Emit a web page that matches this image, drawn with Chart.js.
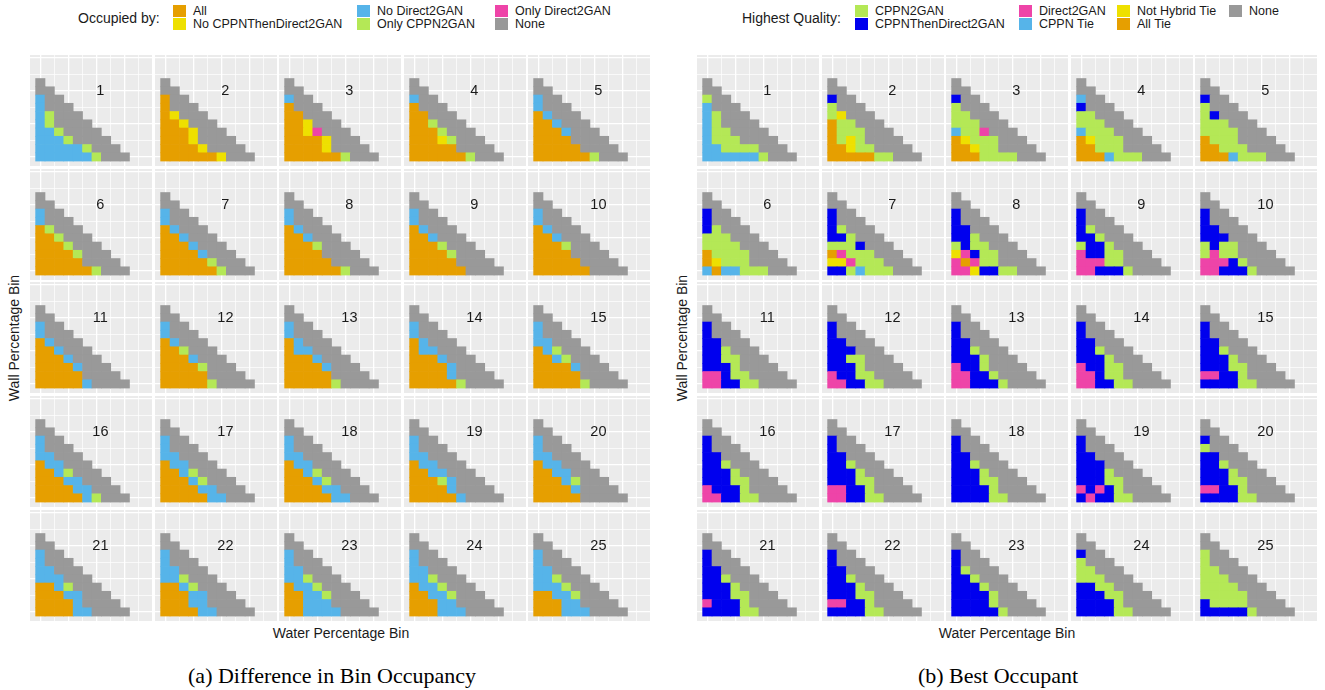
<!DOCTYPE html>
<html>
<head>
<meta charset="utf-8">
<script src="https://cdn.jsdelivr.net/npm/chart.js@4.4.0/dist/chart.umd.min.js"></script>
<style>
  body { margin: 0; width: 1325px; height: 690px; background: #fff; position: relative; overflow: hidden;
         font-family: "Liberation Sans", Arial, sans-serif; color: #1a1a1a; }
  .facet { position: absolute; }
  .txt { position: absolute; font-size: 12.5px; white-space: nowrap; line-height: 13px; }
  .ltitle { position: absolute; font-size: 14px; white-space: nowrap; transform: translateY(-50%); }
  .key { position: absolute; width: 13px; height: 12px; }
  .vtitle { position: absolute; font-size: 14px; white-space: nowrap; transform: translate(-50%, -50%) rotate(-90deg); }
  .htitle { position: absolute; font-size: 14px; white-space: nowrap; transform: translate(-50%, -50%); }
  .caption { position: absolute; font-family: "Liberation Serif", "Times New Roman", serif; font-size: 22px;
             white-space: nowrap; transform: translate(-50%, -50%); color: #000; }
</style>
</head>
<body>
<script>
// legend categories (code letters used in the grids below)
const occCodes = ['A', 'Y', 'B', 'G', 'P', 'N'];
const occLabels = ['All', 'No CPPNThenDirect2GAN', 'No Direct2GAN', 'Only CPPN2GAN', 'Only Direct2GAN', 'None'];
const bestCodes = ['G', 'D', 'P', 'C', 'Y', 'A', 'N'];
const bestLabels = ['CPPN2GAN', 'CPPNThenDirect2GAN', 'Direct2GAN', 'CPPN Tie', 'Not Hybrid Tie', 'All Tie', 'None'];

// gridline breaks (bin units)
const xBreaks = [0, 1.5, 3, 4.5, 6, 7.5, 9, 10.5];
const yBreaks = [0, 2, 4, 6, 8, 10, 12];

// each facet: rows from top (wall bin 9) to bottom (wall bin 0), one letter per water bin
const occupancyGrids = [
  'N NN BNN BNNN BGNNN BGNNNN BBGNNNN BBBGNNNN BBBBBGNNN BBBBBBGNNN',
  'N NN ANN ANNN AYNNN AAYNNN AAAYNNN AAAYNNNN AAAAYNNNN AAAAAAYNNN',
  'N NN BNN ANNN AANNN AAYNNN AAYPNNN AAAAYNNN AAAAYNNNN AAAAAAGNNN',
  'N NN BNN ANNN AANNN AAGNNN AAAGNNN AAAYGNNN AAAAANNNN AAAAAAGNNN',
  'N NN BNN BNNN ABNNN AABNNN AAABNNN AAAANNNN AAAAANNNN AAAAAAGNNN',
  'N NN BNN BNNN AGNNN AAGNNN AAAGNNN AAAAGNNN AAAAANNNN AAAAAAGNNN',
  'N NN BNN BNNN ABNNN AABNNN AAABNNN AAAABNNN AAAAAGNNN AAAAAAGNNN',
  'N NN BNN BNNN ABNNN AABNNN AAAGNNN AAAANNNN AAAAANNNN AAAAAAGNNN',
  'N NN BNN BNNN ABNNN AABNNN AAAGNNN AAAAGNNN AAAAANNNN AAAAAANNNN',
  'N NN BNN BNNN ABNNN AABNNN AAAGNNN AAAANNNN AAAAANNNN AAAAAANNNN',
  'N NN BNN BNNN ABNNN AABNNN AAABNNN AAAABNNN AAAAANNNN AAAAABNNNN',
  'N NN BNN BNNN ABNNN AAGNNN AAABNNN AAAAGNNN AAAAANNNN AAAAAGNNNN',
  'N NN BNN BNNN ABNNN ABBNNN AAABNNN AAAABNNN AAAAANNNN AAAAAGNNNN',
  'N NN BNN BNNN ABNNN ABBNNN AAABNNN AAAABNNN AAAABNNNN AAAAAGNNNN',
  'N NN BNN BNNN BBNNN ABGNNN AABGNNN AAAABNNN AAAAANNNN AAAAAGNNNN',
  'N NN BNN BNNN BBNNN ABBNNN AABGNNN AAABBNNN AAAABBNNN AAAAABGNNN',
  'N NN BNN BNNN BBNNN ABBNNN AABGNNN AAABGNNN AAAABBNNN AAAAABBNNN',
  'N NN BNN BNNN BBNNN ABBNNN AABGNNN AAABGNNN AAAABBNNN AAAAABBNNN',
  'N NN BNN BNNN BBNNN ABBNNN AABBNNN AAAGBNNN AAAABNNNN AAAAABNNNN',
  'N NN BNN BNNN BBNNN ABBNNN AABBNNN AAABGNNN AAAABNNNN AAAAANNNNN',
  'N NN BNN BNNN BBNNN BBBNNN AABGNNN AAABBNNN AAAABNNNN AAAABBNNNN',
  'N NN BNN BNNN BBNNN BBGNNN AABGNNN AAABBNNN AAABBNNNN AAAABBNNNN',
  'N NN BNN BNNN BBNNN BBGNNN ABBGNNN AABBGNNN AABBBNNNN AABBBBNNNN',
  'N NN BNN BNNN BBNNN BBGNNN ABBGNNN AABBGNNN AAABBNNNN AAABBBNNNN',
  'N NN BNN BNNN BBNNN BBGNNN BBBGNNN AABBGNNN AAABBNNNN AAABBBNNNN'
];

const bestGrids = [
  'N NN GNN CNNN CGNNN CGNNNN CGGNNNN CGGGNNNN CCGGGGNNN CCCCCCGNNN',
  'N NN DNN GNNN GYNNN AGGNNN AGGGNNN AGYGNNNN AAYGGNNNN AAAAAGGNNN',
  'N NN DNN GNNN GGNNN GGGNNN CGGPNNN AYGGGNNN AAYGGNNNN AAAGGGGNNN',
  'N NN CNN DNNN GGNNN GGGNNN CGGGNNN AYGGGNNN AAGGGNNNN AAACGGGNNN',
  'N NN DNN GNNN GDNNN GGGNNN GGGGNNN AGGGNNNN AAGGGNNNN AAACGGGNNN',
  'N NN DNN DNNN DGNNN GGGNNN GGGGNNN AGGGGNNN AYGGGNNNN CACCGGGNNN',
  'N NN DNN DNNN DGNNN DDGNNN GGGDNNN APGGGNNN YYPGGGNNN DDGCGGGNNN',
  'N NN DNN DNNN DDNNN DDGNNN GDGGNNN YPDGGNNN PAPGGNNNN PPYDDGGNNN',
  'N NN DNN DNNN DGNNN DDGNNN GDDGNNN PDDGGNNN PPPGGNNNN PPDDDGNNNN',
  'N NN DNN DNNN DDNNN DDDNNN GDGGNNN GPGGNNNN PPPDGNNNN PPDDDGNNNN',
  'N NN DNN DNNN DDNNN DDGNNN DDGGNNN DDDGNNNN PPDGGNNNN PPDDGGNNNN',
  'N NN DNN DNNN DDNNN DDDNNN DDGGNNN DDDGNNNN PDDGGNNNN PPDDGGNNNN',
  'N NN DNN DNNN DDNNN DDGNNN DDDGNNN PDDGNNNN PPDDGNNNN PPDDDGNNNN',
  'N NN DNN DNNN DDNNN DDGNNN DDDGNNN PDDGGNNN PPDGGNNNN PPDDGGNNNN',
  'N NN DNN DNNN DDNNN DDGNNN DDDGNNN DDDGGNNN PPDDGNNNN DDDDGGNNNN',
  'N NN DNN DNNN DDNNN DDGNNN DDDGNNN DDDGGNNN PDDDGNNNN PPDDGGNNNN',
  'N NN DNN DNNN DDNNN DDGNNN DDDGNNN DDDGGNNN PPDDGNNNN PPDDGGNNNN',
  'N NN DNN DNNN DDNNN DDGNNN DDDGNNN DDDGGNNN DDDDGNNNN DDDDGGNNNN',
  'N NN DNN DNNN DDNNN DDDNNN DDDGNNN DDDGGNNN PDPDGNNNN DPDDGGNNNN',
  'N NN DNN GNNN DDNNN DDGNNN DDDGNNN DDDGGNNN PPDDGNNNN DDDDGGNNNN',
  'N NN DNN DNNN DDNNN DDGNNN DDDGNNN DDDGGNNN PDDDGNNNN DDDDGGNNNN',
  'N NN DNN DNNN DDNNN DDGNNN DDDGNNN DDDGGNNN PPDDGNNNN DDDDGGNNNN',
  'N NN DNN DNNN DGNNN DDGNNN DDDGNNN DDDDGNNN DDDDGNNNN DDDDDGNNNN',
  'N NN DNN GNNN GGNNN GGGNNN DDGGNNN DDDGGNNN DDDDGNNNN DDDDGGNNNN',
  'N NN GNN GNNN GGNNN GGGNNN GGGGNNN GGGGGNNN DGGGGNNNN DDDDDGNNNN'
];

const colors = {
  A: '#E69F00', Y: '#EEE000', B: '#56B4E9', C: '#56B4E9', G: '#B4E856',
  P: '#EE44A8', D: '#0000EE', N: '#999999'
};

// layout of the two facet grids
const FW = 122, FH = 111, PITCH_X = 124.5, PITCH_Y = 113.7, TOP = 55;
const panels = [
  { left: 30, grids: occupancyGrids },
  { left: 697, grids: bestGrids }
];

const facetPlugin = {
  id: 'facetDeco',
  beforeDraw(chart) {
    const { ctx, chartArea: a } = chart;
    ctx.save();
    ctx.fillStyle = '#EBEBEB';
    ctx.fillRect(a.left, a.top, a.right - a.left, a.bottom - a.top);
    ctx.restore();
  },
  afterDatasetsDraw(chart, args, opts) {
    const { ctx, scales } = chart;
    ctx.save();
    ctx.font = '14.5px "Liberation Sans", Arial, sans-serif';
    ctx.fillStyle = '#1a1a1a';
    ctx.textAlign = 'center';
    ctx.textBaseline = 'middle';
    ctx.fillText(opts.label, scales.x.getPixelForValue(6.4), scales.y.getPixelForValue(8));
    ctx.restore();
  }
};

function makeFacet(left, top, grid, num) {
  const box = document.createElement('div');
  box.className = 'facet';
  box.style.left = Math.round(left) + 'px';
  box.style.top = Math.round(top) + 'px';
  const cv = document.createElement('canvas');
  cv.width = FW;
  cv.height = FH;
  box.appendChild(cv);
  document.body.appendChild(box);

  const cells = [];
  grid.split(' ').forEach((row, i) => {
    const r = 9 - i;
    [...row].forEach((k, c) => cells.push({ x: c, y: [r - 0.5, r + 0.5], k: k }));
  });

  new Chart(cv, {
    type: 'bar',
    data: {
      datasets: [{
        data: cells,
        backgroundColor: ctx => colors[ctx.raw.k],
        borderWidth: 0,
        barPercentage: 1,
        categoryPercentage: 1,
        grouped: false
      }]
    },
    options: {
      responsive: false,
      animation: false,
      events: [],
      layout: { padding: 0 },
      plugins: {
        legend: { display: false },
        tooltip: { enabled: false },
        facetDeco: { label: String(num) }
      },
      scales: {
        x: {
          type: 'linear', min: -1.1, max: 11.9, offset: false,
          afterBuildTicks: ax => { ax.ticks = xBreaks.map(v => ({ value: v })); },
          grid: { color: '#ffffff', offset: false, drawTicks: false,
                  lineWidth: c => (c.tick && c.tick.value % 3 === 0 ? 1.3 : 0.7) },
          ticks: { display: false },
          border: { display: false }
        },
        y: {
          type: 'linear', min: -1.1, max: 12.35,
          afterBuildTicks: ax => { ax.ticks = yBreaks.map(v => ({ value: v })); },
          grid: { color: '#ffffff', drawTicks: false,
                  lineWidth: c => (c.tick && c.tick.value % 4 === 0 ? 1.3 : 0.7) },
          ticks: { display: false },
          border: { display: false }
        }
      }
    },
    plugins: [facetPlugin]
  });
}

panels.forEach(p => {
  p.grids.forEach((g, i) => {
    const col = i % 5, row = Math.floor(i / 5);
    makeFacet(p.left + col * PITCH_X, TOP + row * PITCH_Y, g, i + 1);
  });
});

// text helpers
function addText(cls, text, x, y, extra) {
  const d = document.createElement('div');
  d.className = cls;
  d.textContent = text;
  d.style.left = x + 'px';
  d.style.top = y + 'px';
  if (extra) Object.assign(d.style, extra);
  document.body.appendChild(d);
  return d;
}

function addLegend(title, titleX, codes, labels, keyXs) {
  addText('ltitle', title, titleX, 18);
  codes.forEach((k, i) => {
    const col = Math.floor(i / 2), row = i % 2;
    const key = document.createElement('div');
    key.className = 'key';
    key.style.background = colors[k];
    key.style.left = keyXs[col] + 'px';
    key.style.top = (5 + row * 13) + 'px';
    document.body.appendChild(key);
    addText('txt', labels[i], keyXs[col] + 20, 5 + row * 13);
  });
}

addLegend('Occupied by:', 78, occCodes, occLabels, [173, 357, 495]);
addLegend('Highest Quality:', 742, bestCodes, bestLabels, [855, 1019, 1117, 1229]);

addText('htitle', 'Water Percentage Bin', 341, 633);
addText('htitle', 'Water Percentage Bin', 1007, 633);
addText('vtitle', 'Wall Percentage Bin', 14, 338);
addText('vtitle', 'Wall Percentage Bin', 682, 338);
addText('caption', '(a) Difference in Bin Occupancy', 332, 676);
addText('caption', '(b) Best Occupant', 998, 676);
</script>
</body>
</html>
